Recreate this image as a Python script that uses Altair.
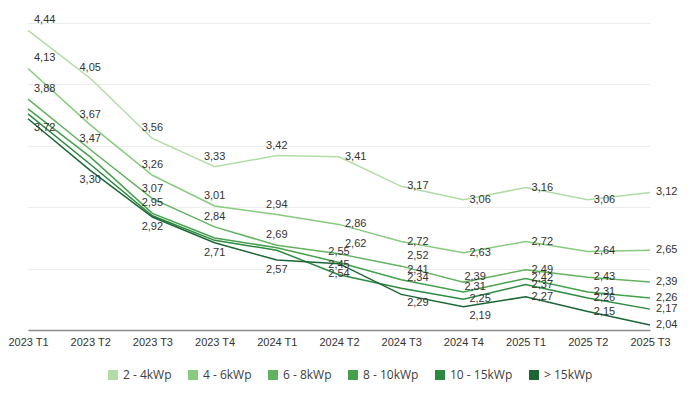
import altair as alt
import pandas as pd

periods = ["2023 T1", "2023 T2", "2023 T3", "2023 T4", "2024 T1", "2024 T2",
           "2024 T3", "2024 T4", "2025 T1", "2025 T2", "2025 T3"]
series = ["2 - 4kWp", "4 - 6kWp", "6 - 8kWp", "8 - 10kWp", "10 - 15kWp", "> 15kWp"]
colors = ["#b1dca6", "#86cb7e", "#62b35f", "#45a04b", "#2b8a3f", "#1c6535"]

v_2_4 = [4.44, 4.05, 3.56, 3.33, 3.42, 3.41, 3.17, 3.06, 3.16, 3.06, 3.12]
v_4_6 = [4.13, 3.67, 3.26, 3.01, 2.94, 2.86, 2.72, 2.63, 2.72, 2.64, 2.65]
v_6_8 = [3.88, 3.47, 3.07, 2.84, 2.69, 2.62, 2.52, 2.39, 2.49, 2.43, 2.39]
v_8_10 = [3.80, 3.41, 2.95, 2.75, 2.67, 2.55, 2.41, 2.31, 2.42, 2.31, 2.26]
v_10_15 = [3.76, 3.35, 2.93, 2.73, 2.65, 2.45, 2.34, 2.25, 2.37, 2.26, 2.17]
v_15 = [3.72, 3.30, 2.92, 2.71, 2.57, 2.54, 2.29, 2.19, 2.27, 2.15, 2.04]
values = [v_2_4, v_4_6, v_6_8, v_8_10, v_10_15, v_15]


def label_shown(si, pi):
    # labels hidden in the original where the middle lines overlap
    if si in (3, 4) and pi <= 4:
        return si == 3 and pi == 2
    return True


def placement(si, pi):
    if pi >= 8:
        return "R"
    if pi == 0:
        return "RB" if si == 5 else "RA"
    if pi <= 4:
        return "B" if si == 5 else "A"
    if pi == 5:
        return ["R", "R", "RA", "A", "A", "B"][si]
    if pi == 6:
        return ["R", "R", "RA", "RA", "RA", "RB"][si]
    return ["R", "R", "RS", "RS", "R", "RB"][si]


rows = []
for si, s in enumerate(series):
    for pi, p in enumerate(periods):
        v = values[si][pi]
        rows.append({
            "period": p, "series": s, "value": v,
            "label": f"{v:.2f}".replace(".", ","),
            "shown": label_shown(si, pi),
            "pos": placement(si, pi),
        })
df = pd.DataFrame(rows)

FONT = "Liberation Sans"

x_enc = alt.X("period:O", sort=periods, scale=alt.Scale(padding=0),
              axis=alt.Axis(title=None, labelAngle=0, grid=False, ticks=False,
                            domainColor="#8c8c8c", domainWidth=1.5,
                            labelColor="#333333", labelFontSize=11,
                            labelFont=FONT, labelPadding=6))
y_enc = alt.Y("value:Q", scale=alt.Scale(domain=[2.0, 4.5], nice=False, zero=False),
              axis=alt.Axis(title=None, labels=False, ticks=False, domain=False,
                            values=[2.0, 2.5, 3.0, 3.5, 4.0, 4.5],
                            gridColor="#ededed", gridWidth=1))
color_enc = alt.Color("series:N", sort=series,
                      scale=alt.Scale(domain=series, range=colors),
                      legend=alt.Legend(title=None, orient="none", direction="horizontal",
                                        legendX=79, legendY=346,
                                        symbolType="square", symbolSize=4,
                                        symbolStrokeWidth=8,
                                        labelFont="Open Sans", labelFontSize=12,
                                        labelColor="#404040", columnPadding=4,
                                        labelOffset=4))

base = alt.Chart(df)
lines = base.mark_line(strokeWidth=1.5).encode(x=x_enc, y=y_enc, color=color_enc)

specs = {
    "R": dict(dx=6, dy=0, align="left"),
    "RA": dict(dx=6, dy=-10, align="left"),
    "RB": dict(dx=6, dy=9, align="left"),
    "RS": dict(dx=1, dy=-5, align="left"),
    "A": dict(dx=0, dy=-10, align="center"),
    "B": dict(dx=0, dy=10, align="center"),
}
text_layers = []
for key, sp in specs.items():
    text_layers.append(
        base.transform_filter(alt.datum.shown)
        .transform_filter(alt.datum.pos == key)
        .mark_text(font=FONT, fontSize=11, color="#333333", baseline="middle", **sp)
        .encode(x=alt.X("period:O", sort=periods), y="value:Q", text="label:N")
    )

chart = alt.layer(lines, *text_layers).properties(
    width=622, height=307,
    padding={"left": 20, "top": 15, "right": 35, "bottom": 60},
    autosize=alt.AutoSizeParams(type="none"),
).configure_view(stroke=None)

chart.save("out.html", embed_options={"renderer": "svg", "actions": False})
